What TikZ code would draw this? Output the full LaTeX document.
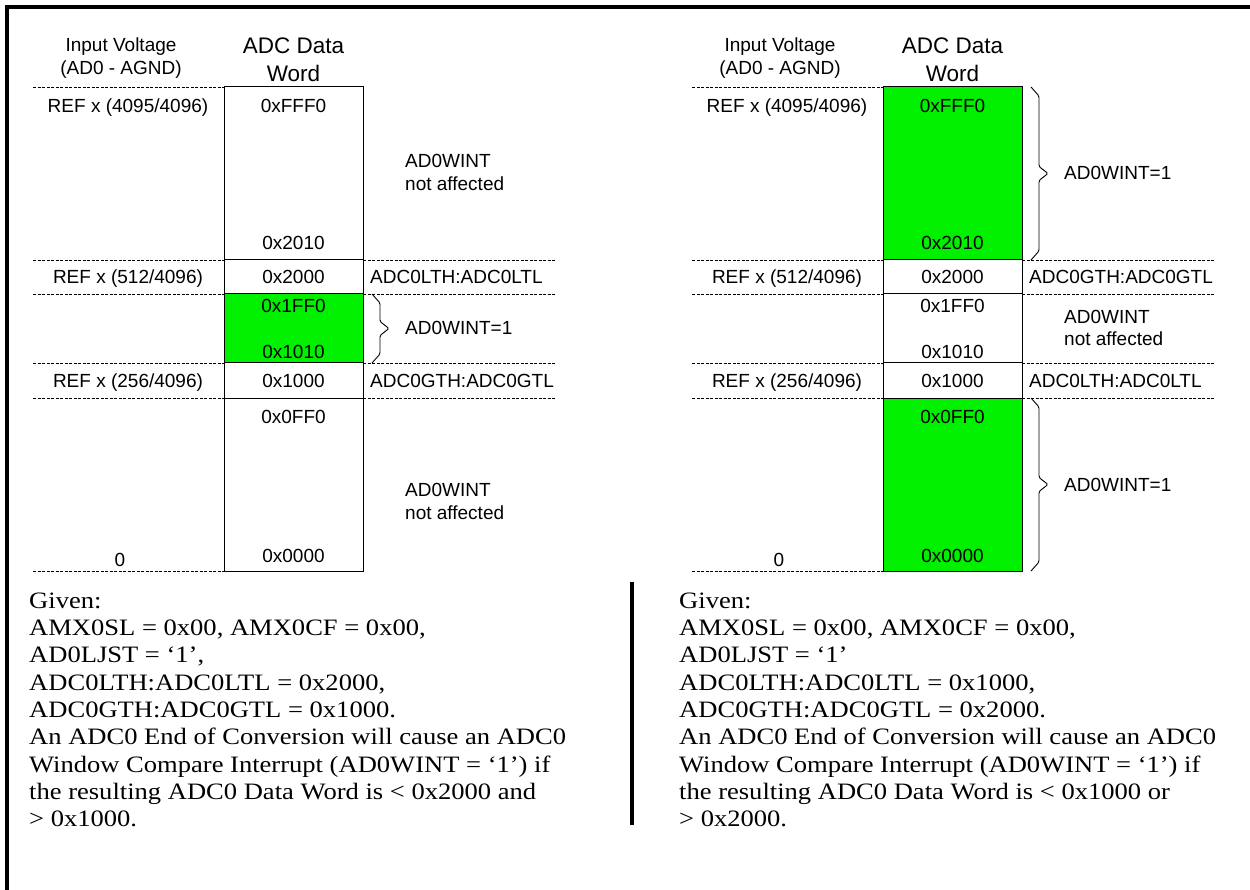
\documentclass[tikz,border=0pt]{standalone}
\usepackage{fontspec}
\newfontfamily\sansf{Liberation Sans}
\newfontfamily\serf[FakeStretch=1.13]{Liberation Serif}
\definecolor{wingreen}{RGB}{0,240,0}
\newcommand\wbrace[3]{%
  \draw[bracestyle] ({#1+9},#2) -- ({#1+17},{#2+9}) -- ({#1+17},{(#2+#3)/2-7})
    -- ({#1+26},{(#2+#3)/2}) -- ({#1+17},{(#2+#3)/2+7}) -- ({#1+17},{#3-9}) -- ({#1+9},#3);}
\begin{document}
\begin{tikzpicture}[x=1pt,y=-1pt,
  lbl/.style={font=\sansf\fontsize{19}{22}\selectfont, inner sep=0pt, anchor=base},
  lblw/.style={lbl, anchor=base west},
  hdr/.style={font=\sansf\fontsize{22.5}{26}\selectfont, inner sep=0pt, anchor=base},
  dline/.style={line width=0.9pt, dash pattern=on 3pt off 1.5pt},
  cell/.style={draw, line width=1pt, minimum width=139pt, inner sep=0pt, outer sep=0pt},
  bracestyle/.style={line width=0.9pt, rounded corners=1.5pt},
  txt/.style={font=\serf\fontsize{23.5}{27.3}\selectfont, inner sep=0pt, anchor=base west},
  frame/.style={line width=3.2pt}
]
\useasboundingbox (0,0) rectangle (1250,890);
\draw[frame] (1250,7) -- (7,7) -- (7,890);
\draw[frame] (632,582) -- (632,825);

% ---------------- left panel ----------------
\node[cell, minimum height=173pt] (Lc1) at (293.5,173.5) {};
\node[cell, minimum height=34pt]  (Lc2) at (293.5,277) {};
\node[cell, minimum height=69pt, fill=wingreen] (Lc3) at (293.5,328.5) {};
\node[cell, minimum height=35pt]  (Lc4) at (293.5,380.5) {};
\node[cell, minimum height=173pt] (Lc5) at (293.5,484.5) {};
\foreach \yy in {87,260,294,363,398,571} \draw[dline] (33,\yy) -- (224,\yy);
\foreach \yy in {260,294,363,398} \draw[dline] (363,\yy) -- (555,\yy);
\wbrace{363}{294}{363}

\node[lbl] (Liv1) at (121,51.7) {Input Voltage};
\node[lbl] (Liv2) at (121,75) {(AD0 - AGND)};
\node[hdr] (Lh1) at (293.5,54) {ADC Data};
\node[hdr] (Lh2) at (293.5,81.7) {Word};
\node[lbl] (Lr1) at (128,112.7) {REF x (4095/4096)};
\node[lbl] (Lv1) at (293.5,112.7) {0xFFF0};
\node[lbl] (Lv2) at (293.5,250) {0x2010};
\node[lblw] (La1) at (405,168) {AD0WINT};
\node[lblw] (La2) at (405,190.7) {not affected};
\node[lbl] (Lr2) at (128,283.3) {REF x (512/4096)};
\node[lbl] (Lv3) at (293.5,283.3) {0x2000};
\node[lblw] (Lt1) at (370,283.3) {ADC0LTH:ADC0LTL};
\node[lbl] (Lv4) at (293.5,312.3) {0x1FF0};
\node[lbl] (Lv5) at (293.5,358.3) {0x1010};
\node[lblw] (La3) at (405,335) {AD0WINT=1};
\node[lbl] (Lr3) at (128,387.7) {REF x (256/4096)};
\node[lbl] (Lv6) at (293.5,387.7) {0x1000};
\node[lblw] (Lt2) at (370,387.7) {ADC0GTH:ADC0GTL};
\node[lbl] (Lv7) at (293.5,423.3) {0x0FF0};
\node[lbl] (Lv8) at (293.5,562.3) {0x0000};
\node[lbl] (Lr4) at (120,566) {0};
\node[lblw] (La4) at (405,496) {AD0WINT};
\node[lblw] (La5) at (405,519.3) {not affected};

% ---------------- right panel ----------------
\begin{scope}[shift={(659,0)}]
\node[cell, minimum height=173pt, fill=wingreen] (Rc1) at (293.5,173.5) {};
\node[cell, minimum height=34pt]  (Rc2) at (293.5,277) {};
\node[cell, minimum height=69pt]  (Rc3) at (293.5,328.5) {};
\node[cell, minimum height=35pt]  (Rc4) at (293.5,380.5) {};
\node[cell, minimum height=173pt, fill=wingreen] (Rc5) at (293.5,484.5) {};
\foreach \yy in {87,260,294,363,398,571} \draw[dline] (33,\yy) -- (224,\yy);
\foreach \yy in {260,294,363,398} \draw[dline] (363,\yy) -- (555,\yy);
\wbrace{363}{87}{260}
\wbrace{363}{398}{571}

\node[lbl] (Riv1) at (121,51.7) {Input Voltage};
\node[lbl] (Riv2) at (121,75) {(AD0 - AGND)};
\node[hdr] (Rh1) at (293.5,54) {ADC Data};
\node[hdr] (Rh2) at (293.5,81.7) {Word};
\node[lbl] (Rr1) at (128,112.7) {REF x (4095/4096)};
\node[lbl] (Rv1) at (293.5,112.7) {0xFFF0};
\node[lbl] (Rv2) at (293.5,250) {0x2010};
\node[lblw] (Ra1) at (405,180) {AD0WINT=1};
\node[lbl] (Rr2) at (128,283.3) {REF x (512/4096)};
\node[lbl] (Rv3) at (293.5,283.3) {0x2000};
\node[lblw] (Rt1) at (370,283.3) {ADC0GTH:ADC0GTL};
\node[lbl] (Rv4) at (293.5,312.3) {0x1FF0};
\node[lbl] (Rv5) at (293.5,358.3) {0x1010};
\node[lblw] (Ra2) at (405,323.3) {AD0WINT};
\node[lblw] (Ra3) at (405,346) {not affected};
\node[lbl] (Rr3) at (128,387.7) {REF x (256/4096)};
\node[lbl] (Rv6) at (293.5,387.7) {0x1000};
\node[lblw] (Rt2) at (370,387.7) {ADC0LTH:ADC0LTL};
\node[lbl] (Rv7) at (293.5,423.3) {0x0FF0};
\node[lbl] (Rv8) at (293.5,562.3) {0x0000};
\node[lbl] (Rr4) at (120,566) {0};
\node[lblw] (Ra4) at (405,491) {AD0WINT=1};
\end{scope}

% ---------------- bottom texts ----------------
\node[txt] (Lg1) at (29,608.3) {Given:};
\node[txt] (Lg2) at (29,635.6) {AMX0SL = 0x00, AMX0CF = 0x00,};
\node[txt] (Lg3) at (29,662.9) {AD0LJST = ‘1’,};
\node[txt] (Lg4) at (29,690.2) {ADC0LTH:ADC0LTL = 0x2000,};
\node[txt] (Lg5) at (29,717.5) {ADC0GTH:ADC0GTL = 0x1000.};
\node[txt] (Lg6) at (29,744.8) {An ADC0 End of Conversion will cause an ADC0};
\node[txt] (Lg7) at (29,772.1) {Window Compare Interrupt (AD0WINT = ‘1’) if};
\node[txt] (Lg8) at (29,799.4) {the resulting ADC0 Data Word is < 0x2000 and};
\node[txt] (Lg9) at (29,826.7) {> 0x1000.};

\node[txt] (Rg1) at (679,608.3) {Given:};
\node[txt] (Rg2) at (679,635.6) {AMX0SL = 0x00, AMX0CF = 0x00,};
\node[txt] (Rg3) at (679,662.9) {AD0LJST = ‘1’};
\node[txt] (Rg4) at (679,690.2) {ADC0LTH:ADC0LTL = 0x1000,};
\node[txt] (Rg5) at (679,717.5) {ADC0GTH:ADC0GTL = 0x2000.};
\node[txt] (Rg6) at (679,744.8) {An ADC0 End of Conversion will cause an ADC0};
\node[txt] (Rg7) at (679,772.1) {Window Compare Interrupt (AD0WINT = ‘1’) if};
\node[txt] (Rg8) at (679,799.4) {the resulting ADC0 Data Word is < 0x1000 or};
\node[txt] (Rg9) at (679,826.7) {> 0x2000.};
\end{tikzpicture}
\end{document}
